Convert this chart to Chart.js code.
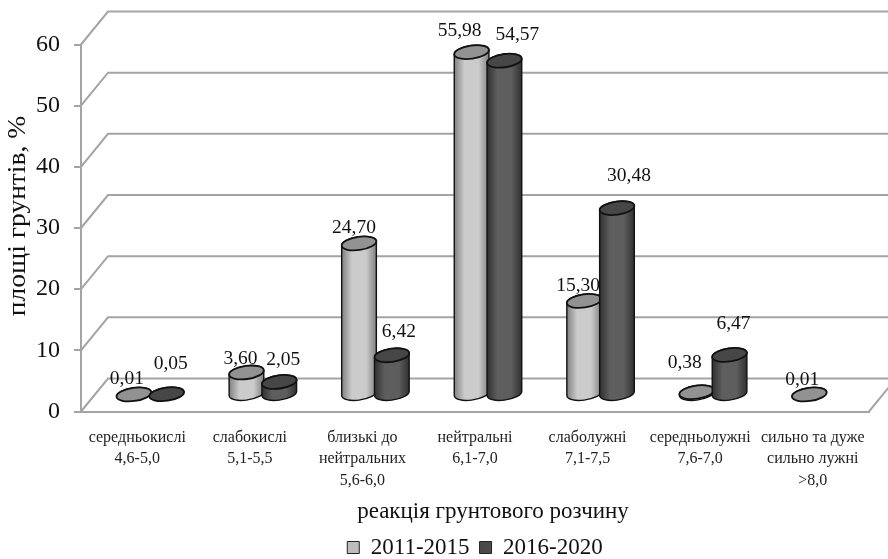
<!DOCTYPE html>
<html>
<head>
<meta charset="utf-8">
<style>
  html, body { margin: 0; padding: 0; background: #fff; }
  canvas { display: block; }
</style>
<script src="https://cdn.jsdelivr.net/npm/chart.js@4/dist/chart.umd.min.js"></script>
</head>
<body>
<canvas id="chart" width="888" height="559"></canvas>
<script>
// Soil solution reaction: share of soil area by acidity class, two survey periods.
const categories = [
  ['середньокислі', '4,6-5,0'],
  ['слабокислі', '5,1-5,5'],
  ['близькі до', 'нейтральних', '5,6-6,0'],
  ['нейтральні', '6,1-7,0'],
  ['слаболужні', '7,1-7,5'],
  ['середньолужні', '7,6-7,0'],
  ['сильно та дуже', 'сильно лужні', '>8,0']
];
const seriesNames = ['2011-2015', '2016-2020'];
const values2011 = [0.01, 3.60, 24.70, 55.98, 15.30, 0.38, 0.01];
const values2016 = [0.05, 2.05, 6.42, 54.57, 30.48, 6.47, null];
const yTicks = [0, 10, 20, 30, 40, 50, 60];
const yTitle = 'площі грунтів, %';
const xTitle = 'реакція грунтового розчину';

// Hand placement of the value labels, relative to the top of each cylinder.
const labelNudge2011 = [[-7,-16],[-6,-14],[-5,-16],[-12,-21],[-6,-15],[-12,-29],[-7,-15]];
const labelNudge2016 = [[4,-30],[4,-22],[7,-23],[13,-26],[12,-32],[4,-31],[0,0]];

const SERIF = '"Liberation Serif", "Times New Roman", serif';
const GRID = '#a4a4a4';
const DEPTH_X = 27, DEPTH_Y = 33;     // wall offset of the pseudo-3D box
const BAR_DX = 13, BAR_DY = 17;       // cylinders stand mid-way across the floor
const ROT = -8 * Math.PI / 180;

const looks = [
  { edge: '#808080', mid: '#cbcbcb', cap: '#929292' },
  { edge: '#303030', mid: '#5e5e5e', cap: '#474747' }
];

function drawCylinder(ctx, x, top, base, rx, look) {
  const ry = 6.6;
  const t0 = Math.atan(-(ry / rx) * Math.tan(ROT));
  const g = ctx.createLinearGradient(x - rx, 0, x + rx, 0);
  g.addColorStop(0, look.edge);
  g.addColorStop(0.3, look.mid);
  g.addColorStop(0.7, look.mid);
  g.addColorStop(1, look.edge);
  ctx.beginPath();
  ctx.ellipse(x, base, rx, ry, ROT, t0, t0 + Math.PI, false);
  ctx.ellipse(x, top, rx, ry, ROT, t0 + Math.PI, t0 + 2 * Math.PI, false);
  ctx.closePath();
  ctx.fillStyle = g;
  ctx.fill();
  ctx.strokeStyle = '#111';
  ctx.lineWidth = 1.4;
  ctx.stroke();
  ctx.beginPath();
  ctx.ellipse(x, top, rx, ry, ROT, 0, 2 * Math.PI);
  ctx.fillStyle = look.cap;
  ctx.fill();
  ctx.lineWidth = 1.8;
  ctx.stroke();
}

const cylinders = {
  id: 'cylinders',
  // Walls, cylinders and value labels replace the flat bar painting.
  beforeDatasetsDraw(chart) {
    const { ctx, scales: { x, y }, chartArea: area, width } = chart;
    ctx.save();
    ctx.strokeStyle = GRID;
    ctx.lineWidth = 2;
    yTicks.forEach(t => {
      const py = y.getPixelForValue(t);
      ctx.beginPath();
      ctx.moveTo(area.left, py);
      ctx.lineTo(area.left + DEPTH_X, py - DEPTH_Y);
      ctx.lineTo(width + 2, py - DEPTH_Y);
      ctx.stroke();
    });
    const floor = y.getPixelForValue(0);
    ctx.beginPath();
    ctx.moveTo(area.right, floor);
    ctx.lineTo(area.right + DEPTH_X, floor - DEPTH_Y);
    ctx.stroke();

    chart.data.labels.forEach((_, i) => {
      chart.data.datasets.forEach((ds, d) => {
        if (ds.data[i] == null) return;
        const el = chart.getDatasetMeta(d).data[i];
        drawCylinder(ctx, el.x + BAR_DX, el.y - BAR_DY, el.base - BAR_DY, el.width / 2, looks[d]);
      });
    });

    ctx.fillStyle = '#111';
    ctx.font = '19.5px ' + SERIF;
    ctx.textAlign = 'center';
    ctx.textBaseline = 'middle';
    chart.data.datasets.forEach((ds, d) => {
      const nudge = d === 0 ? labelNudge2011 : labelNudge2016;
      ds.data.forEach((v, i) => {
        if (v == null) return;
        const el = chart.getDatasetMeta(d).data[i];
        ctx.fillText(v.toFixed(2).replace('.', ','),
          el.x + BAR_DX + nudge[i][0], el.y - BAR_DY + nudge[i][1]);
      });
    });
    ctx.restore();
    return false;
  },
  afterDraw(chart) {
    const { ctx } = chart;
    ctx.save();
    ctx.fillStyle = '#111';
    ctx.textAlign = 'center';
    ctx.textBaseline = 'middle';
    ctx.font = '23px ' + SERIF;
    ctx.fillText(xTitle, 493, 512);
    // The vertical title is set slightly wide.
    ctx.translate(18, 216);
    ctx.rotate(-Math.PI / 2);
    ctx.scale(1.1, 1);
    ctx.font = '25px ' + SERIF;
    ctx.fillText(yTitle, 0, 0);
    ctx.restore();
  }
};

new Chart(document.getElementById('chart'), {
  type: 'bar',
  data: {
    labels: categories,
    datasets: [
      { label: seriesNames[0], data: values2011, backgroundColor: '#bdbdbd', borderColor: '#222', borderWidth: 1 },
      { label: seriesNames[1], data: values2016, backgroundColor: '#4a4a4a', borderColor: '#222', borderWidth: 1 }
    ]
  },
  plugins: [cylinders],
  options: {
    responsive: false,
    animation: false,
    layout: { padding: { top: 44.5, right: 19, bottom: -10, left: 0 } },
    categoryPercentage: 0.583,
    barPercentage: 1.065,
    scales: {
      x: {
        afterFit(s) { s.height = 114.5; },
        grid: { display: false },
        border: { color: GRID, width: 2 },
        ticks: {
          color: '#222', autoSkip: false, maxRotation: 0, minRotation: 0, padding: 8,
          font: { family: SERIF, size: 16, lineHeight: 1.32 }
        }
      },
      y: {
        min: 0, max: 60,
        afterFit(s) { s.width = 81; },
        grid: { drawOnChartArea: false, color: GRID, lineWidth: 2, tickLength: 7, tickColor: GRID },
        border: { color: GRID, width: 2 },
        ticks: {
          stepSize: 10, color: '#111', padding: 14,
          font: { family: SERIF, size: 24 }
        }
      }
    },
    plugins: {
      tooltip: { enabled: false },
      legend: {
        position: 'bottom',
        fullSize: false,
        labels: {
          color: '#111', boxWidth: 12, boxHeight: 12, padding: 10,
          font: { family: SERIF, size: 23 }
        }
      }
    }
  }
});
</script>
</body>
</html>
